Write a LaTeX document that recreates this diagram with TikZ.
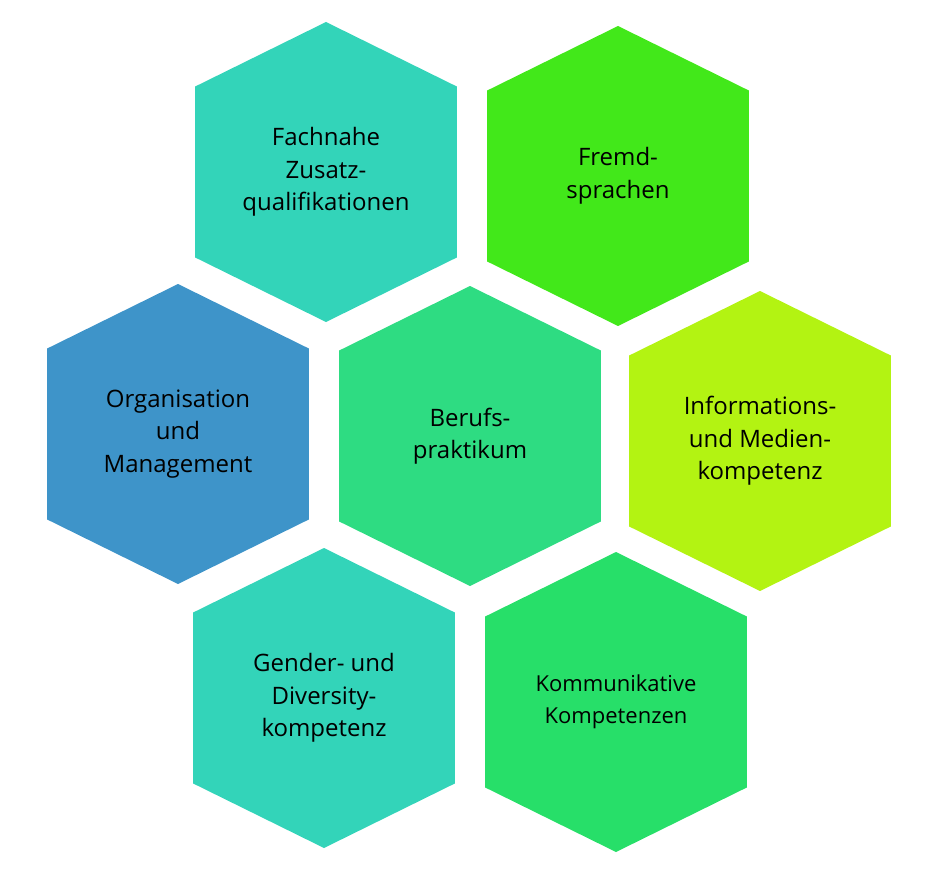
\documentclass[tikz,border=0pt]{standalone}
\usepackage{fontspec}
\setmainfont{Open Sans}
\usepackage{tikz}
\definecolor{Tuerkis}{RGB}{51, 212, 185}
\definecolor{Gruen}{RGB}{66, 232, 26}
\definecolor{Blau}{RGB}{62, 148, 201}
\definecolor{Mint}{RGB}{46, 220, 130}
\definecolor{Limette}{RGB}{179, 243, 18}
\definecolor{Smaragd}{RGB}{39, 223, 105}

\begin{document}
\begin{tikzpicture}[
        x=1pt, y=-1pt,
        feld/.style={
            rectangle,
            inner sep=0pt,
            minimum width=261.6pt,
            minimum height=300pt,
            align=center,
            text=black,
            font=\fontsize{24}{32.5}\selectfont,
            path picture={
                \fill[#1] (path picture bounding box.north)
                    -- ([yshift=-64.5pt]path picture bounding box.north east)
                    -- ([yshift=64.5pt]path picture bounding box.south east)
                    -- (path picture bounding box.south)
                    -- ([yshift=64.5pt]path picture bounding box.south west)
                    -- ([yshift=-64.5pt]path picture bounding box.north west)
                    -- cycle;
            }
        }
    ]
        \useasboundingbox (0,0) rectangle (930,872);

        % Top row
        \node[feld=Tuerkis] (fachnahe) at (326, 172) {Fachnahe\\Zusatz-\\qualifikationen};
        \node[feld=Gruen] (fremd) at (618, 176) {Fremd-\\sprachen};

        % Middle row
        \node[feld=Blau] (orga) at (178, 434) {Organisation\\und\\Management};
        \node[feld=Mint] (beruf) at (470, 436) {Berufs-\\praktikum};
        \node[feld=Limette] (medien) at (760, 441) {Informations-\\und Medien-\\kompetenz};

        % Bottom row
        \node[feld=Tuerkis] (gender) at (324, 698) {Gender- und\\Diversity-\\kompetenz};
        \node[feld=Smaragd, font=\fontsize{22}{32}\selectfont] (komm) at (616, 702) {Kommunikative\\Kompetenzen};

    \end{tikzpicture}
\end{document}
